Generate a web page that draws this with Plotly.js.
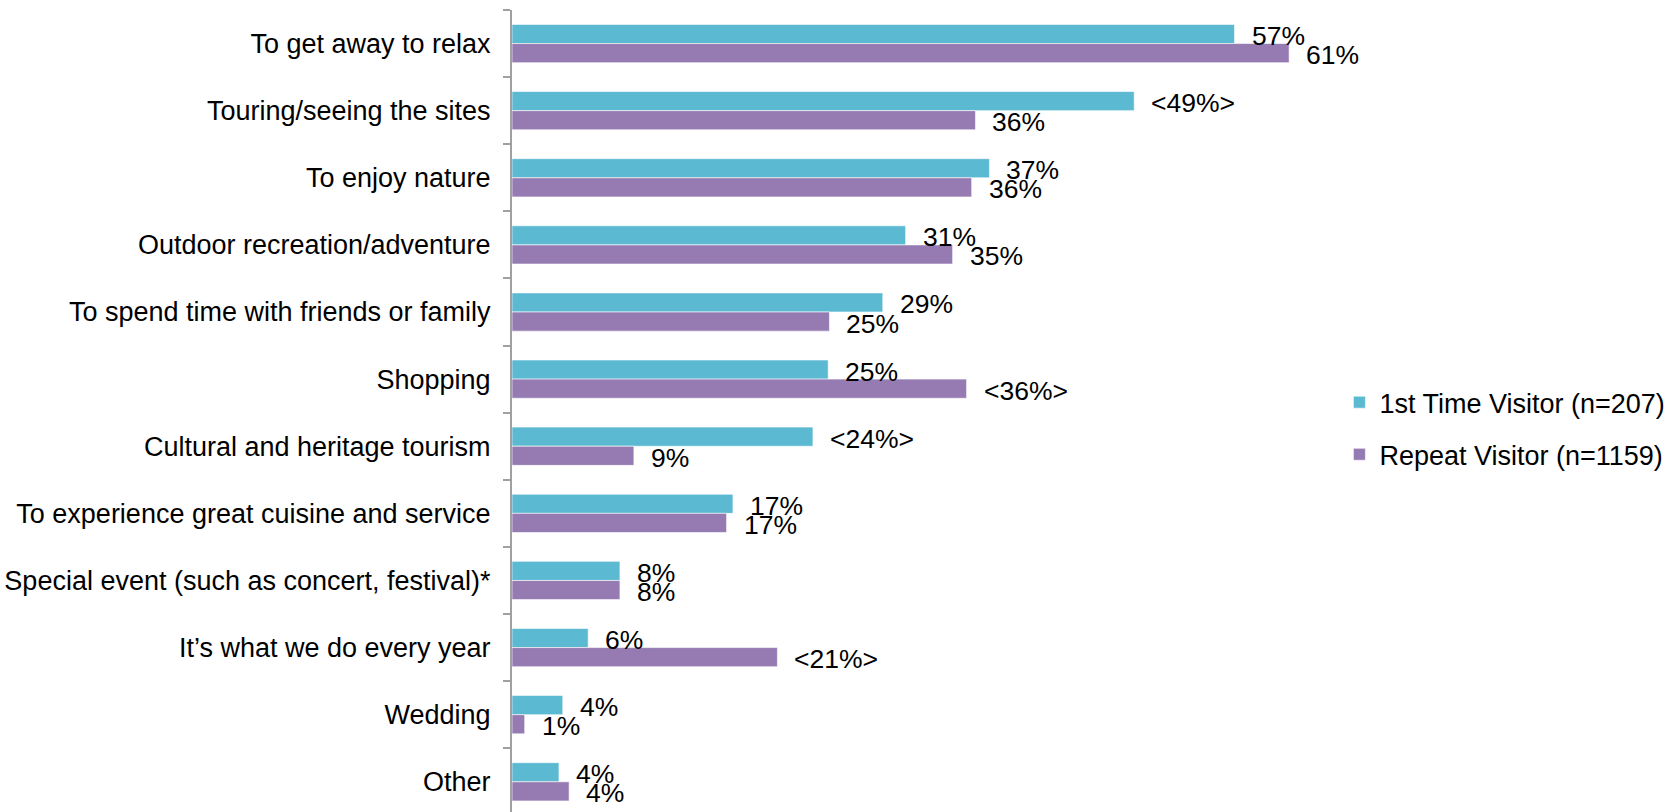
<!DOCTYPE html>
<html>
<head>
<meta charset="utf-8">
<script src="https://cdn.plot.ly/plotly-3.0.1.min.js"></script>
<style>html,body{margin:0;padding:0;background:#fff;}#chart{width:1675px;height:812px;}</style>
</head>
<body>
<div id="chart"></div>
<script>
var categories = [
  "To get away to relax",
  "Touring/seeing the sites",
  "To enjoy nature",
  "Outdoor recreation/adventure",
  "To spend time with friends or family",
  "Shopping",
  "Cultural and heritage tourism",
  "To experience great cuisine and service",
  "Special event (such as concert, festival)*",
  "It\u2019s what we do every year",
  "Wedding",
  "Other"
];
var firstTimeName = "1st Time Visitor (n=207)";
var repeatName = "Repeat Visitor (n=1159)";
var firstTimeValues = [56.9, 49.0, 37.6, 31.0, 29.2, 24.9, 23.7, 17.4, 8.5, 6.0, 4.0, 3.7];
var repeatValues    = [61.2, 36.5, 36.2, 34.7, 25.0, 35.8, 9.6, 16.9, 8.5, 20.9, 1.0, 4.5];
var firstTimeLabels = ["57%", "<49%>", "37%", "31%", "29%", "25%", "<24%>", "17%", "8%", "6%", "4%", "4%"];
var repeatLabels    = ["61%", "36%", "36%", "35%", "25%", "<36%>", "9%", "17%", "8%", "<21%>", "1%", "4%"];

var FONT = "Liberation Sans, Arial, sans-serif";
var bargap = 0.43;
var barOffset = (1 - bargap) / 4;

var traces = [
  {
    type: "bar", orientation: "h", name: firstTimeName, legendgroup: "a",
    y: categories, x: firstTimeValues,
    marker: {color: "#5bb9d2", line: {color: "rgba(255,255,255,0.6)", width: 1}},
    hoverinfo: "skip"
  },
  {
    type: "bar", orientation: "h", name: repeatName, legendgroup: "b",
    y: categories, x: repeatValues,
    marker: {color: "#957bb2", line: {color: "rgba(255,255,255,0.6)", width: 1}},
    hoverinfo: "skip"
  }
];

var annotations = [];
categories.forEach(function (c, i) {
  annotations.push({
    x: firstTimeValues[i], y: i - barOffset, xref: "x", yref: "y",
    text: firstTimeLabels[i], showarrow: false, xanchor: "left", yanchor: "middle",
    xshift: 15, yshift: -2, font: {family: FONT, size: 26.5, color: "#000"}
  });
  annotations.push({
    x: repeatValues[i], y: i + barOffset, xref: "x", yref: "y",
    text: repeatLabels[i], showarrow: false, xanchor: "left", yanchor: "middle",
    xshift: 15, yshift: -2, font: {family: FONT, size: 26.5, color: "#000"}
  });
});

var layout = {
  width: 1675, height: 812,
  margin: {l: 512, r: 10, t: 10, b: 0, pad: 0, autoexpand: false},
  paper_bgcolor: "#fff", plot_bgcolor: "#fff",
  font: {family: FONT, size: 27, color: "#000"},
  barmode: "group", bargap: bargap, bargroupgap: 0,
  showlegend: true,
  legend: {
    x: 0.7176, y: 0.478, xanchor: "left", yanchor: "middle",
    traceorder: "grouped", tracegroupgap: 14,
    font: {family: FONT, size: 27, color: "#000"},
    bgcolor: "rgba(0,0,0,0)"
  },
  xaxis: {range: [0, 90.8], visible: false, fixedrange: true},
  yaxis: {
    type: "category", range: [11.45, -0.5], autorange: false,
    tickson: "boundaries", ticks: "outside", ticklen: 7, tickwidth: 2, tickcolor: "#a0a0a0",
    showline: true, linecolor: "#a0a0a0", linewidth: 2,
    showgrid: false, zeroline: false, ticklabelstandoff: 14,
    tickfont: {family: FONT, size: 27, color: "#000"}, fixedrange: true
  },
  annotations: annotations
};

Plotly.newPlot("chart", traces, layout, {staticPlot: true, displayModeBar: false});
</script>
</body>
</html>
